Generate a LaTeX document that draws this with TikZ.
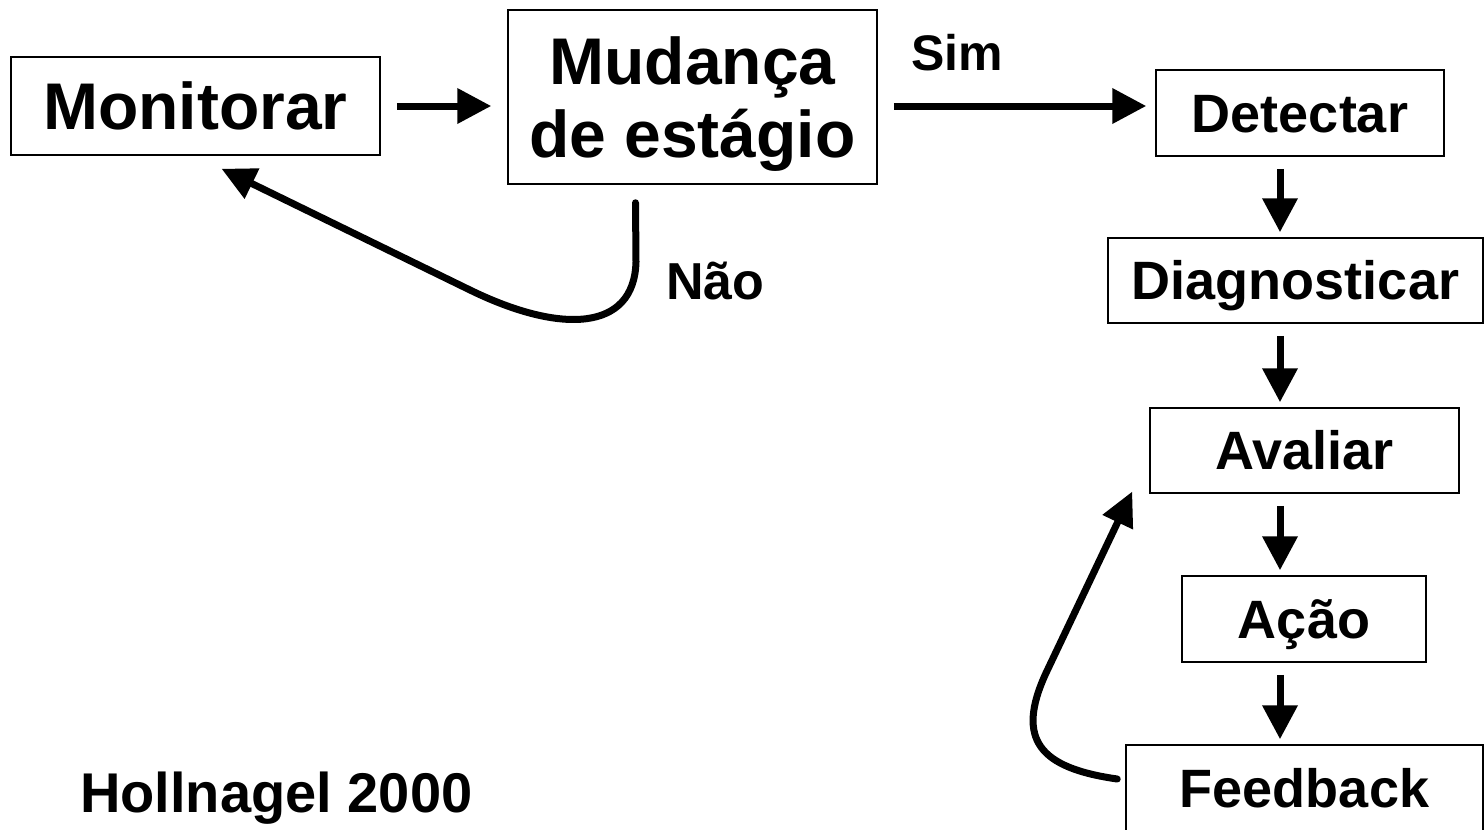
\documentclass[tikz,border=0pt]{standalone}
\usepackage{fontspec}
\setmainfont{Liberation Sans}
\usepackage{tikz}
\usetikzlibrary{arrows.meta}
\tikzset{
  box/.style={draw, line width=1.5pt, inner sep=0pt, align=center, text depth=0pt},
  bigtext/.style={font=\fontsize{66}{73}\selectfont\bfseries},
  coltext/.style={font=\fontsize{54}{60}\selectfont\bfseries, text height=38pt},
  flow/.style={line width=7pt, -{Triangle[length=34pt,width=34pt]}},
  loopback/.style={line width=7pt, line cap=round, -{Triangle[length=34pt,width=32pt]}}
}

\begin{document}
\begin{tikzpicture}[x=1pt,y=-1pt]
    \useasboundingbox (0,0) rectangle (1484,830);
    % boxes
    \node[box, bigtext, text height=47pt, minimum width=369pt, minimum height=98pt] (mon) at (195.5,106) {Monitorar};
    \node[box, bigtext, minimum width=369pt, minimum height=174pt] (mud) at (692.5,97) {Mudança\\de estágio};
    \node[box, coltext, minimum width=288pt, minimum height=86pt] (det) at (1300,113) {Detectar};
    \node[box, coltext, minimum width=375pt, minimum height=85pt] (diag) at (1295.5,280.5) {Diagnosticar};
    \node[box, coltext, minimum width=309pt, minimum height=85pt] (aval) at (1304.5,450.5) {Avaliar};
    \node[box, coltext, minimum width=244pt, minimum height=86pt] (acao) at (1304,619) {Ação};
    \node[box, coltext, minimum width=357pt, minimum height=86pt] (fb) at (1304.5,788) {Feedback};
    % labels
    \node[anchor=base west, inner sep=0pt, font=\fontsize{50}{56}\selectfont\bfseries] (sim) at (911,70) {Sim};
    \node[anchor=base west, inner sep=0pt, font=\fontsize{52}{58}\selectfont\bfseries] (nao) at (666,299) {Não};
    \node[anchor=base west, inner sep=0pt, font=\fontsize{56}{64}\selectfont\bfseries] (ref) at (80,812) {Hollnagel 2000};
    % arrows
    \draw[flow, shorten <=16pt, shorten >=16pt] (mon.east) -- (mon.east -| mud.west);
    \draw[flow, shorten <=16pt, shorten >=9pt] ([yshift=7pt]det.west -| mud.east) -- ([yshift=7pt]det.west);
    \coordinate (col) at (1280,0);
    \foreach \a/\b in {det/diag, diag/aval, aval/acao, acao/fb}
      \draw[flow, shorten <=12pt, shorten >=5pt] (\a.south -| col) -- (\b.north -| col);
    % feedback loops
    \coordinate (naostart) at ([xshift=-57pt,yshift=-18pt]mud.south);
    \coordinate (naoend) at ([xshift=26pt,yshift=-13pt]mon.south);
    \draw[loopback] (naostart) -- (636,262) .. controls (634,332) and (560,334) .. (470,290) -- (naoend);
    \coordinate (fbstart) at ([xshift=-8pt,yshift=9pt]fb.west);
    \coordinate (fbend) at ([xshift=-17pt,yshift=-41pt]aval.west);
    \draw[loopback] (fbstart) .. controls (1040,768) and (1015,740) .. (1046,673) -- (fbend);
\end{tikzpicture}
\end{document}
